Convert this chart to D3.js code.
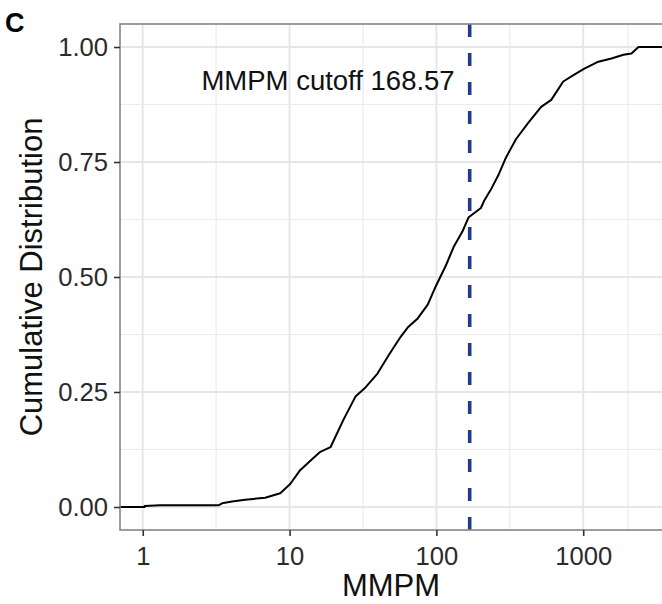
<!DOCTYPE html>
<html>
<head>
<meta charset="utf-8">
<script src="https://cdn.jsdelivr.net/npm/d3@7"></script>
<style>
  body { margin: 0; background: #fff; }
  text { font-family: "Liberation Sans", Arial, Helvetica, sans-serif; }
</style>
</head>
<body>
<div id="chart"></div>
<script>
// ECDF: MMPM value and cumulative share
var mmpm = [1.03, 1.31, 3.3, 3.47, 4.06, 4.98, 6.82, 8.64, 10.1, 11.8, 13.8, 16.2, 19.0, 23.3, 28.1, 32.9, 39.7, 47.3, 57.1, 63.7, 74.6, 87.3, 99.1, 116, 131, 151, 166, 201, 211, 235, 263, 298, 349, 422, 517, 606, 731, 869, 1018, 1268, 1556, 1880, 2131, 2380];
var cumDist = [0.002, 0.004, 0.004, 0.008, 0.012, 0.016, 0.02, 0.03, 0.05, 0.08, 0.10, 0.12, 0.13, 0.19, 0.24, 0.26, 0.29, 0.33, 0.37, 0.39, 0.41, 0.44, 0.48, 0.525, 0.565, 0.60, 0.63, 0.65, 0.665, 0.69, 0.72, 0.76, 0.80, 0.835, 0.87, 0.885, 0.925, 0.94, 0.953, 0.968, 0.975, 0.983, 0.986, 1.0];

var xTicks = [1, 10, 100, 1000];
var xMinor = [3.16, 31.6, 316, 2020];
var yTicks = [0, 0.25, 0.5, 0.75, 1];
var yMinor = [0.125, 0.375, 0.625, 0.875];
var cutoff = 168.57;

(function() {
var width = 662, height = 604;
var pLeft = 120, pRight = 664, pTop = 24, pBottom = 530;

var svg = d3.select("#chart").append("svg")
  .attr("width", width)
  .attr("height", height);

var x = d3.scaleLog().domain([0.70, 3550]).range([pLeft, pRight]);
var y = d3.scaleLinear().domain([-0.05, 1.05]).range([pBottom, pTop]);

// grid
svg.selectAll(".xminor").data(xMinor).enter().append("line")
  .attr("x1", d => x(d)).attr("x2", d => x(d))
  .attr("y1", pTop).attr("y2", pBottom)
  .attr("stroke", "#ebebeb").attr("stroke-width", 1.2);
svg.selectAll(".yminor").data(yMinor).enter().append("line")
  .attr("x1", pLeft).attr("x2", pRight)
  .attr("y1", d => y(d)).attr("y2", d => y(d))
  .attr("stroke", "#ebebeb").attr("stroke-width", 1.2);
svg.selectAll(".xmajor").data(xTicks).enter().append("line")
  .attr("x1", d => x(d)).attr("x2", d => x(d))
  .attr("y1", pTop).attr("y2", pBottom)
  .attr("stroke", "#e6e6e6").attr("stroke-width", 1.9);
svg.selectAll(".ymajor").data(yTicks).enter().append("line")
  .attr("x1", pLeft).attr("x2", pRight)
  .attr("y1", d => y(d)).attr("y2", d => y(d))
  .attr("stroke", "#e6e6e6").attr("stroke-width", 1.9);

// ecdf line, padded to the panel edges
var pts = mmpm.map((v, i) => [x(v), y(cumDist[i])]);
pts.unshift([pLeft, y(0)], [x(mmpm[0]), y(0)]);
pts.push([pRight, y(1)]);
svg.append("path")
  .attr("d", d3.line()(pts))
  .attr("fill", "none")
  .attr("stroke", "#000")
  .attr("stroke-width", 2)
  .attr("stroke-linejoin", "round");

// cutoff
svg.append("line")
  .attr("x1", x(cutoff)).attr("x2", x(cutoff))
  .attr("y1", pBottom).attr("y2", pTop)
  .attr("stroke", "#1f3c8c")
  .attr("stroke-width", 3.6)
  .attr("stroke-dasharray", "13,16");

svg.append("text")
  .attr("x", x(cutoff) - 15)
  .attr("y", 90)
  .attr("text-anchor", "end")
  .attr("font-size", 27.5)
  .attr("fill", "#111")
  .text("MMPM cutoff " + cutoff);

// panel border
svg.append("rect")
  .attr("x", pLeft).attr("y", pTop)
  .attr("width", pRight - pLeft).attr("height", pBottom - pTop)
  .attr("fill", "none")
  .attr("stroke", "#858585")
  .attr("stroke-width", 1.6);

// axes
var xAxis = svg.append("g")
  .attr("transform", "translate(0," + pBottom + ")")
  .call(d3.axisBottom(x).tickValues(xTicks).tickFormat(d3.format("d")).tickSize(6).tickPadding(11));
var yAxis = svg.append("g")
  .attr("transform", "translate(" + pLeft + ",0)")
  .call(d3.axisLeft(y).tickValues(yTicks).tickFormat(d3.format(".2f")).tickSize(6).tickPadding(6));

[xAxis, yAxis].forEach(function(g) {
  g.select(".domain").remove();
  g.selectAll(".tick line").attr("stroke", "#333").attr("stroke-width", 1.6);
  g.selectAll(".tick text")
    .attr("font-size", 25.6)
    .attr("fill", "#2b2b2b")
    .style("font-family", "'Liberation Sans', Arial, sans-serif");
});

// titles
svg.append("text")
  .attr("x", (pLeft + 662) / 2)
  .attr("y", 596)
  .attr("text-anchor", "middle")
  .attr("font-size", 31)
  .attr("fill", "#111")
  .text("MMPM");

svg.append("text")
  .attr("transform", "translate(42," + ((pTop + pBottom) / 2) + ") rotate(-90)")
  .attr("text-anchor", "middle")
  .attr("font-size", 31)
  .attr("fill", "#111")
  .text("Cumulative Distribution");

svg.append("text")
  .attr("x", 5)
  .attr("y", 32)
  .attr("font-size", 27)
  .attr("font-weight", "bold")
  .attr("fill", "#000")
  .text("C");
})();
</script>
</body>
</html>
